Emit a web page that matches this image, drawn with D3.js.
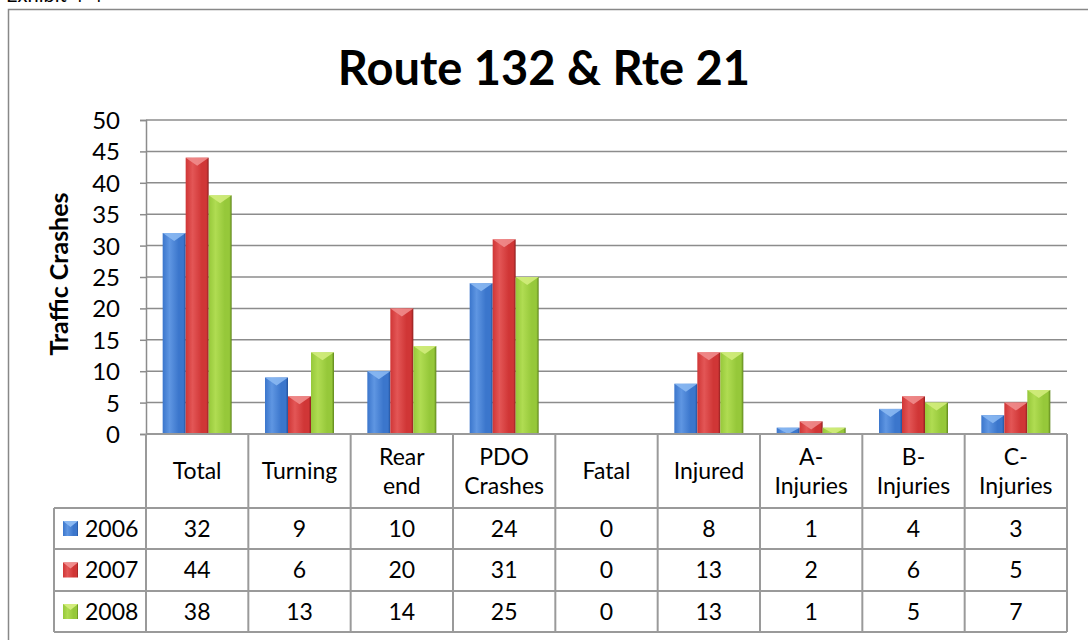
<!DOCTYPE html>
<html>
<head>
<meta charset="utf-8">
<script src="https://cdn.jsdelivr.net/npm/d3@7"></script>
<style>
  body { margin: 0; background: #fff; }
  svg text { font-family: Lato, "Open Sans", sans-serif; fill: #000; }
</style>
</head>
<body>
<svg id="canvas" width="1088" height="640"></svg>
<script>
var categories = ["Total", "Turning", "Rear end", "PDO Crashes", "Fatal", "Injured", "A- Injuries", "B- Injuries", "C- Injuries"];
var headerLines = [["Total"], ["Turning"], ["Rear", "end"], ["PDO", "Crashes"], ["Fatal"], ["Injured"], ["A-", "Injuries"], ["B-", "Injuries"], ["C-", "Injuries"]];
var years = ["2006", "2007", "2008"];
var values2006 = [32, 9, 10, 24, 0, 8, 1, 4, 3];
var values2007 = [44, 6, 20, 31, 0, 13, 2, 6, 5];
var values2008 = [38, 13, 14, 25, 0, 13, 1, 5, 7];
var yTicks = [0, 5, 10, 15, 20, 25, 30, 35, 40, 45, 50];

var series = [values2006, values2007, values2008];
var colors = [
  { base: "#3b76cc", light: "#5f96e2", dark: "#24519a", top: "#8ab8f2" },
  { base: "#d03636", light: "#e35656", dark: "#8f1f1f", top: "#f08c8c" },
  { base: "#96c83a", light: "#b0dc52", dark: "#5e841c", top: "#d2ec7c" }
];

var svg = d3.select("#canvas");
var plotLeft = 146, plotRight = 1067, plotTop = 120, plotBottom = 434;
var fontSize = "24px", tableFont = "23px";

var x0 = d3.scaleBand().domain(categories).range([plotLeft, plotRight]);
var x1 = d3.scaleBand().domain(years).range([-34.5, 34.5]);
var y = d3.scaleLinear().domain([0, 50]).range([plotBottom, plotTop]);

// gradients
var defs = svg.append("defs");
colors.forEach(function(c, i) {
  var g = defs.append("linearGradient").attr("id", "grad" + i)
    .attr("x1", "0").attr("x2", "1").attr("y1", "0").attr("y2", "0");
  g.append("stop").attr("offset", "0%").attr("stop-color", c.base);
  g.append("stop").attr("offset", "30%").attr("stop-color", c.light);
  g.append("stop").attr("offset", "70%").attr("stop-color", c.base);
  g.append("stop").attr("offset", "90%").attr("stop-color", c.base);
  g.append("stop").attr("offset", "100%").attr("stop-color", c.dark);
});

// exhibit caption, cut at the top
svg.append("text").attr("x", 6).attr("y", 2).style("font-size", "20px").text("Exhibit 4-4");

// outer frame
svg.append("rect").attr("x", 8.5).attr("y", 9.5).attr("width", 1100).attr("height", 660)
  .attr("fill", "none").attr("stroke", "#888").attr("stroke-width", 1.5);

// title
svg.append("text").attr("x", 544).attr("y", 85).attr("text-anchor", "middle")
  .style("font-size", "47px").style("font-weight", "bold").text("Route 132 & Rte 21");

// gridlines
svg.append("g").selectAll("line").data(yTicks).join("line")
  .attr("x1", plotLeft).attr("x2", plotRight)
  .attr("y1", function(d) { return y(d); }).attr("y2", function(d) { return y(d); })
  .attr("stroke", "#8c8c8c").attr("stroke-width", 1.5);

// axis
var yAxis = d3.axisLeft(y).tickValues(yTicks).tickSize(6).tickPadding(20);
var ax = svg.append("g").attr("transform", "translate(" + plotLeft + ",0)").call(yAxis);
ax.select(".domain").attr("stroke", "#8c8c8c").attr("stroke-width", 1.5);
ax.selectAll(".tick line").attr("stroke", "#8c8c8c").attr("stroke-width", 1.5);
ax.selectAll(".tick text").style("font-size", fontSize).style("font-family", "Lato, sans-serif")
  .attr("fill", "#000").attr("dy", "0.35em");

svg.append("text").attr("transform", "translate(68,274) rotate(-90)").attr("text-anchor", "middle")
  .style("font-size", "25px").style("font-weight", "bold").text("Traffic Crashes");

// bars
var groups = svg.append("g").selectAll("g").data(categories).join("g")
  .attr("transform", function(d) { return "translate(" + (x0(d) + x0.bandwidth() / 2) + ",0)"; });

groups.each(function(cat, ci) {
  var g = d3.select(this);
  series.forEach(function(vals, si) {
    var v = vals[ci];
    if (v <= 0) return;
    var bx = x1(years[si]), bw = x1.bandwidth();
    var by = y(v), bh = y(0) - y(v);
    g.append("rect").attr("x", bx).attr("y", by).attr("width", bw).attr("height", bh)
      .attr("fill", "url(#grad" + si + ")");
    var bev = Math.min(8, bh);
    g.append("polygon")
      .attr("points", [[bx, by], [bx + bw, by], [bx + bw / 2, by + bev]].join(" "))
      .attr("fill", colors[si].top).attr("opacity", 0.9);
  });
});

// data table
var rowY = [434, 508, 549, 591, 632];
var legendLeft = 54;
var lineColor = "#9a9a9a";

svg.append("g").selectAll("line").data(x0.domain().map(function(d) { return x0(d); }).concat([plotRight]))
  .join("line")
  .attr("x1", function(d) { return d; }).attr("x2", function(d) { return d; })
  .attr("y1", rowY[0]).attr("y2", rowY[4])
  .attr("stroke", lineColor).attr("stroke-width", 2);
[1, 2, 3, 4].forEach(function(r) {
  svg.append("line").attr("x1", legendLeft).attr("x2", plotRight).attr("y1", rowY[r]).attr("y2", rowY[r])
    .attr("stroke", lineColor).attr("stroke-width", 2);
});
svg.append("line").attr("x1", plotLeft).attr("x2", plotRight).attr("y1", rowY[0]).attr("y2", rowY[0])
  .attr("stroke", lineColor).attr("stroke-width", 2);
svg.append("line").attr("x1", legendLeft).attr("x2", legendLeft).attr("y1", rowY[1]).attr("y2", rowY[4])
  .attr("stroke", lineColor).attr("stroke-width", 2);

headerLines.forEach(function(lines, i) {
  var cx = x0(categories[i]) + x0.bandwidth() / 2;
  var cy = (rowY[0] + rowY[1]) / 2;
  var t = svg.append("text").attr("x", cx).attr("text-anchor", "middle").style("font-size", tableFont);
  var lh = 29;
  lines.forEach(function(l, k) {
    t.append("tspan").attr("x", cx).attr("y", cy + (k - (lines.length - 1) / 2) * lh).attr("dy", "0.35em").text(l);
  });
});

series.forEach(function(vals, si) {
  var cy = (rowY[si + 1] + rowY[si + 2]) / 2;
  svg.append("rect").attr("x", 63).attr("y", cy - 7.5).attr("width", 15).attr("height", 15)
    .attr("fill", "url(#grad" + si + ")");
  svg.append("polygon").attr("points", [[63, cy - 7.5], [78, cy - 7.5], [70.5, cy - 1.5]].join(" "))
    .attr("fill", colors[si].top);
  svg.append("text").attr("x", 85).attr("y", cy).attr("dy", "0.35em").style("font-size", tableFont).text(years[si]);
  svg.append("g").selectAll("text").data(vals).join("text")
    .attr("x", function(d, i) { return x0(categories[i]) + x0.bandwidth() / 2; })
    .attr("y", cy).attr("dy", "0.35em").attr("text-anchor", "middle").style("font-size", tableFont)
    .text(function(d) { return d; });
});
</script>
</body>
</html>
